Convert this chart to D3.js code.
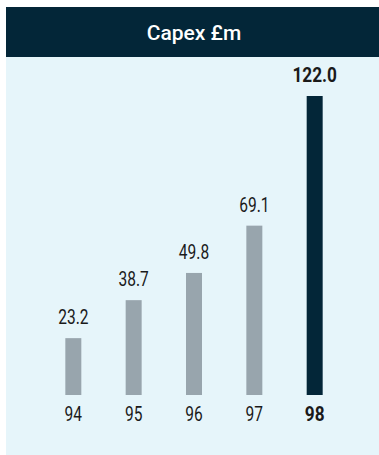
<!DOCTYPE html>
<html>
<head>
<meta charset="utf-8">
<script src="https://cdn.jsdelivr.net/npm/d3@7"></script>
<style>
  body { margin: 0; background: #fff; }
  text { font-family: Roboto, "Liberation Sans", sans-serif; }
</style>
</head>
<body>
<div id="chart"></div>
<script>
// data
const years = ["94", "95", "96", "97", "98"];
const capex = [23.2, 38.7, 49.8, 69.1, 122.0];
const title = "Capex £m";

const width = 379, height = 455;
const panel = {left: 6, top: 7, header: 50};

const svg = d3.select("#chart").append("svg")
    .attr("width", width)
    .attr("height", height);

// background panel + header band
svg.append("rect").attr("x", panel.left).attr("y", panel.top)
    .attr("width", width - panel.left).attr("height", height - panel.top)
    .attr("fill", "#e6f5fa");
svg.append("rect").attr("x", panel.left).attr("y", panel.top)
    .attr("width", width - panel.left).attr("height", panel.header)
    .attr("fill", "#032638");
svg.append("text")
    .attr("x", 194).attr("y", 40)
    .attr("text-anchor", "middle")
    .attr("fill", "#fff")
    .attr("font-size", 21).attr("font-weight", 500)
    .text(title);

// scales
const x = d3.scaleBand().domain(years).range([43, 345]).paddingInner(0.735).paddingOuter(0.37);
const y = d3.scaleLinear().domain([0, 122]).range([395, 96]);
const last = years[years.length - 1];

const data = years.map((d, i) => ({year: d, value: capex[i]}));

svg.selectAll(".bar").data(data).enter().append("rect")
    .attr("class", "bar")
    .attr("x", d => x(d.year))
    .attr("y", d => y(d.value))
    .attr("width", x.bandwidth())
    .attr("height", d => y(0) - y(d.value))
    .attr("fill", d => d.year === last ? "#032638" : "#98a5ad");

// condensed look: squeeze the text horizontally
const squeeze = d => d.year === last ? 0.82 : 0.74;

// value labels
svg.selectAll(".val").data(data).enter().append("text")
    .attr("class", "val")
    .attr("transform", d => "translate(" + (x(d.year) + x.bandwidth() / 2) + "," + (y(d.value) - 14) + ") scale(" + squeeze(d) + ",1)")
    .attr("text-anchor", "middle")
    .attr("font-size", 21)
    .attr("font-weight", d => d.year === last ? "bold" : "normal")
    .attr("fill", "#1a1a1a")
    .text(d => d.value.toFixed(1));

// category labels
svg.selectAll(".cat").data(data).enter().append("text")
    .attr("class", "cat")
    .attr("transform", d => "translate(" + (x(d.year) + x.bandwidth() / 2) + ",421) scale(" + squeeze(d) + ",1)")
    .attr("text-anchor", "middle")
    .attr("font-size", 21)
    .attr("font-weight", d => d.year === last ? "bold" : "normal")
    .attr("fill", "#1a1a1a")
    .text(d => d.year);
</script>
</body>
</html>
